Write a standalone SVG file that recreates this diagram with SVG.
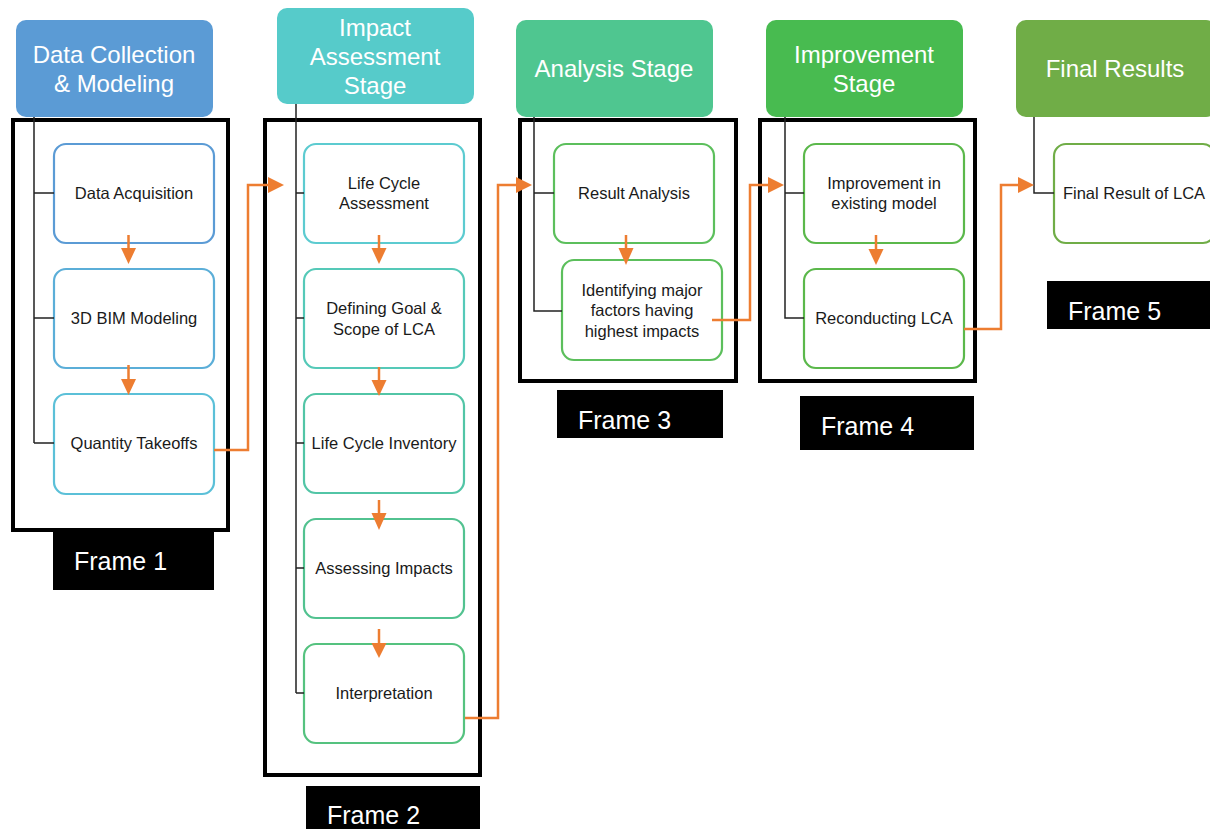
<svg xmlns="http://www.w3.org/2000/svg" width="1210" height="829" viewBox="0 0 1210 829">
<defs>
<style>
.hdr{stroke:none}
.ht{font-family:"Liberation Sans",Arial,sans-serif;font-size:24px;fill:#ffffff;text-anchor:middle;dominant-baseline:central}
.frame{fill:none;stroke:#000;stroke-width:4}
.box{fill:#fff;stroke-width:2.2}
.bt{font-family:"Liberation Sans",Arial,sans-serif;font-size:16.5px;fill:#1a1a1a;text-anchor:middle;dominant-baseline:central}
.tree{fill:none;stroke:#222;stroke-width:1.5}
.or{fill:none;stroke:#ED7D31;stroke-width:2.5}
.oh{fill:#ED7D31}
.fl{fill:#000}
.ft{font-family:"Liberation Sans",Arial,sans-serif;font-size:25px;fill:#fff;dominant-baseline:central}
</style>
</defs>
<rect width="1210" height="829" fill="#fff"/>

<!-- Frames -->
<g id="frame1"><rect class="frame" x="13" y="120" width="215" height="410"/></g>
<g id="frame2"><rect class="frame" x="265" y="120" width="215" height="655"/></g>
<g id="frame3"><rect class="frame" x="520" y="120" width="216" height="261"/></g>
<g id="frame4"><rect class="frame" x="760" y="120" width="215" height="261"/></g>

<!-- Headers -->
<g id="h1"><rect class="hdr" x="16" y="20" width="197" height="97" rx="10" fill="#5B9BD5"/><text class="ht" x="114" y="54">Data Collection</text><text class="ht" x="114" y="83">&amp; Modeling</text></g>
<g id="h2"><rect class="hdr" x="277" y="8" width="197" height="96" rx="10" fill="#56CBCA"/><text class="ht" x="375" y="27">Impact</text><text class="ht" x="375" y="56">Assessment</text><text class="ht" x="375" y="85">Stage</text></g>
<g id="h3"><rect class="hdr" x="516" y="20" width="197" height="97" rx="10" fill="#4FC690"/><text class="ht" x="614" y="68">Analysis Stage</text></g>
<g id="h4"><rect class="hdr" x="766" y="20" width="197" height="97" rx="10" fill="#48BB50"/><text class="ht" x="864" y="54">Improvement</text><text class="ht" x="864" y="83">Stage</text></g>
<g id="h5"><rect class="hdr" x="1016" y="20" width="200" height="97" rx="10" fill="#70AD47"/><text class="ht" x="1115" y="68">Final Results</text></g>

<!-- Frame 1 boxes -->
<g id="n-data-acq"><rect class="box" x="54" y="144" width="160" height="99" rx="12" stroke="#5B9BD5"/><text class="bt" x="134" y="193">Data Acquisition</text></g>
<g id="n-bim"><rect class="box" x="54" y="269" width="160" height="99" rx="12" stroke="#5BAED8"/><text class="bt" x="134" y="318">3D BIM Modeling</text></g>
<g id="n-qto"><rect class="box" x="54" y="394" width="160" height="100" rx="12" stroke="#5BC0D8"/><text class="bt" x="134" y="443">Quantity Takeoffs</text></g>

<!-- Frame 2 boxes -->
<g id="n-lca"><rect class="box" x="304" y="144" width="160" height="99" rx="12" stroke="#5CCBD0"/><text class="bt" x="384" y="183">Life Cycle</text><text class="bt" x="384" y="203">Assessment</text></g>
<g id="n-goal"><rect class="box" x="304" y="269" width="160" height="99" rx="12" stroke="#55C9B8"/><text class="bt" x="384" y="308">Defining Goal &amp;</text><text class="bt" x="384" y="329">Scope of LCA</text></g>
<g id="n-lci"><rect class="box" x="304" y="394" width="160" height="99" rx="12" stroke="#52C5A6"/><text class="bt" x="384" y="443">Life Cycle Inventory</text></g>
<g id="n-assess"><rect class="box" x="304" y="519" width="160" height="99" rx="12" stroke="#52C290"/><text class="bt" x="384" y="568">Assessing Impacts</text></g>
<g id="n-interp"><rect class="box" x="304" y="644" width="160" height="99" rx="12" stroke="#55C27F"/><text class="bt" x="384" y="693">Interpretation</text></g>

<!-- Frame 3 boxes -->
<g id="n-result"><rect class="box" x="554" y="144" width="160" height="99" rx="12" stroke="#5CBF5C"/><text class="bt" x="634" y="193">Result Analysis</text></g>
<g id="n-identify"><rect class="box" x="562" y="260" width="160" height="100" rx="12" stroke="#5CBF5C"/><text class="bt" x="642" y="290">Identifying major</text><text class="bt" x="642" y="310">factors having</text><text class="bt" x="642" y="331">highest impacts</text></g>

<!-- Frame 4 boxes -->
<g id="n-improve"><rect class="box" x="804" y="144" width="160" height="99" rx="12" stroke="#5BB84B"/><text class="bt" x="884" y="183">Improvement in</text><text class="bt" x="884" y="203">existing model</text></g>
<g id="n-recon"><rect class="box" x="804" y="269" width="160" height="99" rx="12" stroke="#5BB84B"/><text class="bt" x="884" y="318">Reconducting LCA</text></g>

<!-- Frame 5 box -->
<g id="n-final"><rect class="box" x="1054" y="144" width="161" height="99" rx="12" stroke="#70AD47"/><text class="bt" x="1134" y="193">Final Result of LCA</text></g>

<!-- Tree connectors and arrows -->
<g id="connectors">
<path class="tree" d="M34,117 V443 M34,193 H54 M34,318 H54 M34,443 H54"/>
<path class="tree" d="M296,104 V693 M296,193 H304 M296,318 H304 M296,443 H304 M296,568 H304 M296,693 H304"/>
<path class="tree" d="M534,117 V311 H562 M534,193 H554"/>
<path class="tree" d="M785,117 V318 H804 M785,193 H804"/>
<path class="tree" d="M1034,117 V193 H1054"/>

<path class="or" d="M214,450 H248 V185 H270"/>
<polygon class="oh" points="268,177 268,193 284,185"/>
<path class="or" d="M465,718 H498 V185 H518"/>
<polygon class="oh" points="516,177 516,193 532,185"/>
<path class="or" d="M712,320 H750 V185 H770"/>
<polygon class="oh" points="768,177 768,193 784,185"/>
<path class="or" d="M964,329 H1001 V185 H1020"/>
<polygon class="oh" points="1018,177 1018,193 1034,185"/>

<path class="or" d="M128.5,235 V250"/><polygon class="oh" points="121,248 136,248 128.5,264"/>
<path class="or" d="M128.5,365 V381"/><polygon class="oh" points="121,379 136,379 128.5,395"/>
<path class="or" d="M379,235 V250"/><polygon class="oh" points="371.5,248 386.5,248 379,264"/>
<path class="or" d="M379,367 V382"/><polygon class="oh" points="371.5,380 386.5,380 379,396"/>
<path class="or" d="M379,500 V515"/><polygon class="oh" points="371.5,513 386.5,513 379,530"/>
<path class="or" d="M379,629 V645"/><polygon class="oh" points="371.5,643 386.5,643 379,658"/>
<path class="or" d="M626,235 V250"/><polygon class="oh" points="618.5,248 633.5,248 626,265"/>
<path class="or" d="M876,235 V251"/><polygon class="oh" points="868.5,249 883.5,249 876,265"/>
</g>

<!-- Frame labels -->
<g id="label1"><rect class="fl" x="53" y="532" width="161" height="58"/><text class="ft" x="74" y="561">Frame 1</text></g>
<g id="label2"><rect class="fl" x="306" y="786" width="174" height="43"/><text class="ft" x="327" y="815">Frame 2</text></g>
<g id="label3"><rect class="fl" x="557" y="390" width="166" height="48"/><text class="ft" x="578" y="420">Frame 3</text></g>
<g id="label4"><rect class="fl" x="800" y="396" width="174" height="54"/><text class="ft" x="821" y="426">Frame 4</text></g>
<g id="label5"><rect class="fl" x="1047" y="281" width="163" height="48"/><text class="ft" x="1068" y="311">Frame 5</text></g>
</svg>
